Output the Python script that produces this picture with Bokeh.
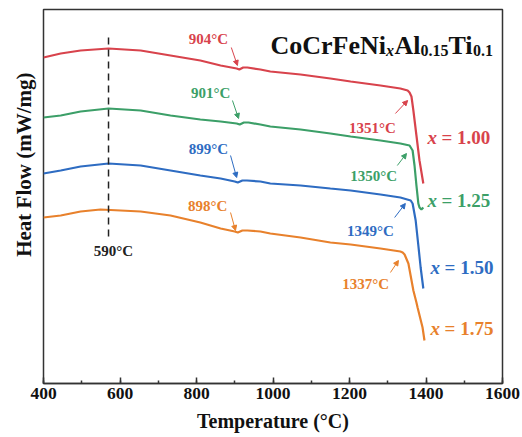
from bokeh.plotting import figure
from bokeh.models import Range1d, SingleIntervalTicker, Label, Arrow, NormalHead, ColumnDataSource, Title
from bokeh.core.properties import value
from bokeh.embed import file_html
from bokeh.resources import INLINE

FONT = "Liberation Serif"

# ---------------- data ----------------
t_100 = [400, 445, 497, 570, 654, 732, 810, 863, 905, 912, 922, 933, 967, 993, 1072, 1150, 1203, 1281, 1333, 1352, 1357, 1362, 1367, 1375, 1383, 1393]
q_100 = [3.26, 3.30, 3.33, 3.35, 3.33, 3.28, 3.23, 3.18, 3.15, 3.14, 3.16, 3.16, 3.14, 3.12, 3.09, 3.05, 3.02, 2.98, 2.95, 2.93, 2.91, 2.87, 2.73, 2.48, 2.23, 2.00]

t_125 = [400, 445, 497, 570, 654, 732, 810, 863, 905, 913, 924, 936, 967, 993, 1072, 1150, 1203, 1281, 1333, 1357, 1365, 1370, 1375, 1380, 1383, 1388, 1393]
q_125 = [2.66, 2.68, 2.72, 2.75, 2.73, 2.68, 2.64, 2.62, 2.60, 2.59, 2.61, 2.61, 2.59, 2.57, 2.54, 2.50, 2.47, 2.43, 2.40, 2.38, 2.33, 2.18, 1.98, 1.80, 1.76, 1.74, 1.76]

t_150 = [400, 445, 497, 570, 654, 732, 810, 863, 900, 908, 920, 932, 967, 993, 1072, 1150, 1203, 1281, 1333, 1360, 1365, 1373, 1380, 1386, 1393]
q_150 = [2.10, 2.13, 2.17, 2.20, 2.18, 2.13, 2.08, 2.05, 2.02, 2.01, 2.03, 2.03, 2.02, 2.00, 1.98, 1.95, 1.93, 1.89, 1.86, 1.83, 1.80, 1.63, 1.38, 1.16, 0.95]

t_175 = [400, 445, 497, 549, 654, 732, 810, 863, 900, 908, 920, 933, 967, 993, 1072, 1150, 1203, 1281, 1333, 1339, 1344, 1354, 1367, 1375, 1378, 1391, 1396]
q_175 = [1.66, 1.68, 1.72, 1.74, 1.72, 1.68, 1.61, 1.55, 1.52, 1.51, 1.53, 1.53, 1.52, 1.50, 1.46, 1.41, 1.39, 1.35, 1.32, 1.31, 1.29, 1.20, 0.93, 0.81, 0.76, 0.56, 0.43]

series_t = [t_100, t_125, t_150, t_175]
series_q = [q_100, q_125, q_150, q_175]
series_colors = ["#d8434c", "#3c9f68", "#2e6cc2", "#e8812c"]
series_names = ["1.00", "1.25", "1.50", "1.75"]

# series name labels (x = ...)
name_t = [1404, 1404, 1412, 1412]
name_q = [2.46, 1.83, 1.16, 0.55]

# transition temperature annotations
ann_text = ["904°C", "901°C", "899°C", "898°C", "1351°C", "1350°C", "1349°C", "1337°C"]
ann_t = [831, 837, 831, 829, 1260, 1263, 1255, 1242]
ann_q = [3.45, 2.91, 2.35, 1.78, 2.56, 2.08, 1.53, 1.00]
ann_color = series_colors + series_colors
arr_t0 = [891, 894, 889, 889, 1320, 1325, 1318, 1307]
arr_q0 = [3.36, 2.83, 2.28, 1.71, 2.70, 2.18, 1.66, 1.11]
arr_t1 = [907, 910, 905, 902, 1352, 1349, 1346, 1328]
arr_q1 = [3.18, 2.65, 2.06, 1.53, 2.83, 2.30, 1.80, 1.23]

# dashed marker line at peak
peak_t = 570
peak_q = [3.46, 1.46]
peak_label = "590°C"
peak_label_q = 1.33

x_ticks_interval = 200

# ---------------- figure ----------------
p = figure(width=522, height=437, output_backend="svg", toolbar_location=None,
           x_range=Range1d(400, 1600), y_range=Range1d(0, 3.74),
           min_border_left=43, min_border_right=20, min_border_top=9, min_border_bottom=54)
p.background_fill_color = "white"
p.border_fill_color = "white"
p.xgrid.visible = False
p.ygrid.visible = False
p.yaxis.visible = False
p.outline_line_color = "#333333"
p.outline_line_width = 1.5

ax = p.xaxis[0]
ax.ticker = SingleIntervalTicker(interval=x_ticks_interval, num_minor_ticks=2)
ax.major_tick_in = 6
ax.major_tick_out = 0
ax.minor_tick_in = 3
ax.minor_tick_out = 0
ax.axis_line_color = "#333333"
ax.axis_line_width = 1.5
ax.major_tick_line_color = "#333333"
ax.major_tick_line_width = 1.5
ax.minor_tick_line_color = "#333333"
ax.minor_tick_line_width = 1.5
ax.major_label_text_font = FONT
ax.major_label_text_font_style = "bold"
ax.major_label_text_font_size = "17.5px"
ax.major_label_text_color = "#111111"
ax.major_label_standoff = 4
ax.axis_label = "Temperature (°C)"
ax.axis_label_text_font = FONT
ax.axis_label_text_font_style = "bold"
ax.axis_label_text_font_size = "20px"
ax.axis_label_text_color = "#111111"
ax.axis_label_standoff = 8

# y axis title as a side title (allows an offset along the axis)
p.add_layout(Title(text="Heat Flow (mW/mg)", align="right", offset=63, standoff=15,
                   text_font=FONT, text_font_style="bold", text_font_size="21px",
                   text_color="#111111"), "left")

# curves
for t, q, c in zip(series_t, series_q, series_colors):
    p.line(t, q, line_color=c, line_width=2.2)

# dashed line
p.line([peak_t, peak_t], peak_q, line_color="#222222", line_width=1.5, line_dash="7 5")
p.text(x=[peak_t + 13], y=[peak_label_q], text=[peak_label], text_font=value(FONT),
       text_font_style="bold", text_font_size="15px", text_color="#222222",
       text_align="center", text_baseline="middle")

# annotations
src = ColumnDataSource(dict(x=ann_t, y=ann_q, text=ann_text, color=ann_color))
p.text(x="x", y="y", text="text", source=src, text_color="color", text_font=value(FONT),
       text_font_style="bold", text_font_size="15px", text_align="center", text_baseline="middle")

for a, b, c, d, col in zip(arr_t0, arr_q0, arr_t1, arr_q1, ann_color):
    p.add_layout(Arrow(end=NormalHead(size=5, fill_color=col, line_color=col, line_width=1),
                       x_start=a, y_start=b, x_end=c, y_end=d, line_color=col, line_width=1))

# series labels
for t, q, n, c in zip(name_t, name_q, series_names, series_colors):
    p.add_layout(Label(x=t, y=q, text="x", text_font=FONT, text_font_style="bold italic",
                       text_font_size="19px", text_color=c, text_baseline="middle", text_align="left"))
    p.add_layout(Label(x=t, y=q, x_offset=14, text="= " + n, text_font=FONT, text_font_style="bold",
                       text_font_size="19px", text_color=c, text_baseline="middle", text_align="left"))

# title made of pieces (main + subscripts)
pieces = [("CoCrFeNi", 26, "bold", 0), ("x", 16, "bold italic", -5), ("Al", 26, "bold", 0),
          ("0.15", 16, "bold", -5), ("Ti", 26, "bold", 0), ("0.1", 16, "bold", -5)]
widths = [115.5, 8.5, 26.0, 28.0, 24.6, 20.0]
xpos = 227
for (txt, sz, st, dy), w in zip(pieces, widths):
    p.add_layout(Label(x=xpos, y=338 + dy, x_units="screen", y_units="screen", text=txt,
                       text_font=FONT, text_font_style=st, text_font_size=f"{sz}px",
                       text_color="#111111", text_baseline="alphabetic", text_align="left"))
    xpos += w

open("out.html", "w").write(file_html(p, INLINE))
